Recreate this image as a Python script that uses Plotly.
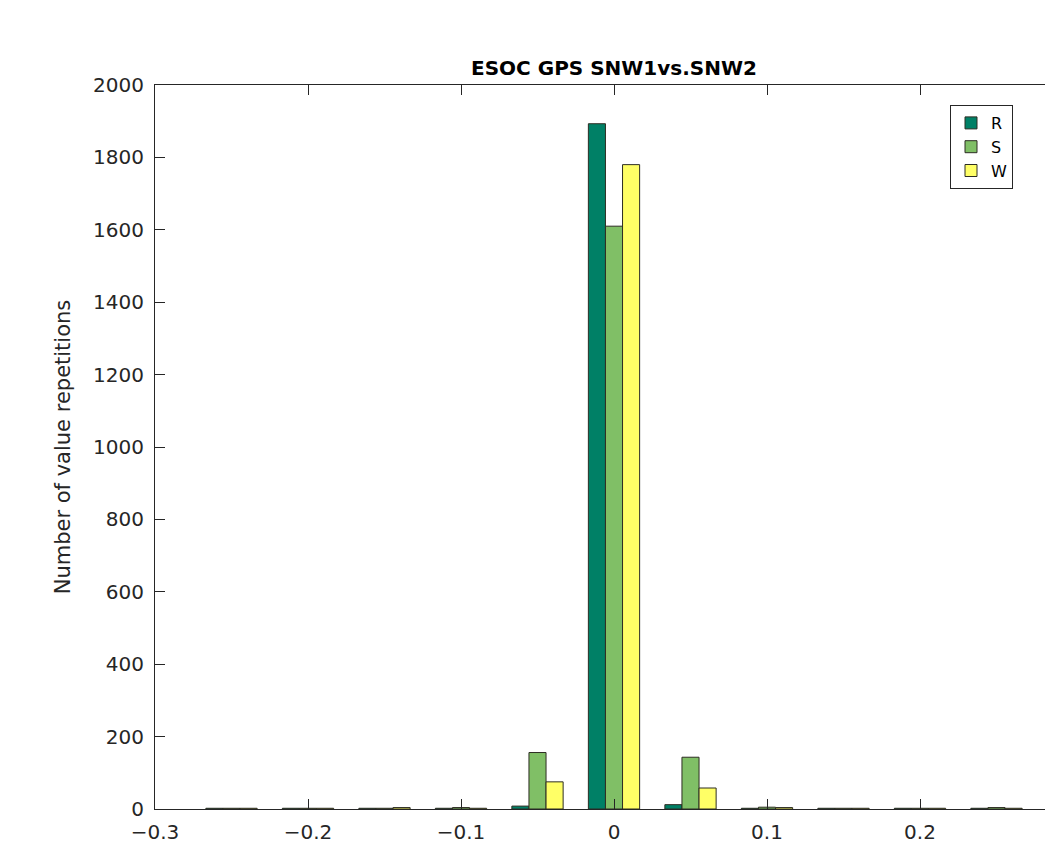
import plotly.graph_objects as go

# Bin centres
bins = [-0.25, -0.2, -0.15, -0.1, -0.05, 0.0, 0.05, 0.1, 0.15, 0.2, 0.25]
# Series values
R_vals = [2, 2, 2, 2, 8, 1893, 12, 2, 2, 2, 2]
S_vals = [2, 2, 2, 4, 156, 1610, 143, 5, 2, 2, 4]
W_vals = [2, 2, 4, 2, 75, 1780, 58, 4, 2, 2, 2]

series_names = ["R", "S", "W"]
series_colors = ["rgb(0,128,102)", "rgb(128,191,102)", "rgb(255,255,102)"]

title_text = "ESOC GPS SNW1vs.SNW2"
y_label = "Number of value repetitions"
x_ticks = [-0.3, -0.2, -0.1, 0, 0.1, 0.2, 0.3]
x_tick_labels = ["\u22120.3", "\u22120.2", "\u22120.1", "0", "0.1", "0.2", "0.3"]
y_ticks = list(range(0, 2001, 200))

W_FIG, H_FIG = 1045, 846
L, T, B = 155, 85, 37
axis_col = "rgb(38,38,38)"
font_family = "DejaVu Sans"

fig = go.Figure()
for name, vals, col in zip(series_names, [R_vals, S_vals, W_vals], series_colors):
    fig.add_trace(go.Bar(
        x=bins, y=vals, name=name,
        marker=dict(color=col, line=dict(color="rgb(45,45,35)", width=1)),
    ))

# px per 0.1 unit on x
px_per_unit = (614 - 155) / 0.3
x_right = -0.3 + (W_FIG - L) / px_per_unit

fig.update_layout(
    width=W_FIG, height=H_FIG,
    margin=dict(l=L, r=0, t=T, b=B, pad=0, autoexpand=False),
    paper_bgcolor="white", plot_bgcolor="white",
    barmode="group", bargap=0.33, bargroupgap=0,
    font=dict(family=font_family, size=20, color=axis_col),
    showlegend=True,
    legend=dict(
        x=(950 - L) / (W_FIG - L), y=1 - (105 - T) / (H_FIG - T - B),
        xanchor="left", yanchor="top",
        bgcolor="white", bordercolor=axis_col, borderwidth=1,
        font=dict(size=16, color="black"),
        itemwidth=30, tracegroupgap=0,
    ),
    xaxis=dict(
        range=[-0.3, x_right], tickvals=x_ticks, ticktext=x_tick_labels,
        ticks="inside", ticklen=10, tickwidth=1, tickcolor=axis_col,
        showline=True, linecolor=axis_col, linewidth=1, mirror="ticks",
        showgrid=False, zeroline=False, ticklabelstandoff=5,
        tickfont=dict(size=20, color=axis_col),
    ),
    yaxis=dict(
        range=[0, 2000], tickvals=y_ticks,
        ticks="inside", ticklen=10, tickwidth=1, tickcolor=axis_col,
        showline=True, linecolor=axis_col, linewidth=1, mirror=False,
        showgrid=False, zeroline=False, ticklabelstandoff=6,
        tickfont=dict(size=20, color=axis_col),
        title=dict(text=y_label, font=dict(size=21, color=axis_col), standoff=16),
    ),
    annotations=[dict(
        text="<b>" + title_text + "</b>", xref="paper", yref="paper",
        x=(613.5 - L) / (W_FIG - L), y=1, xanchor="center", yanchor="bottom",
        yshift=3, showarrow=False, font=dict(size=20, color="black", family=font_family),
    )],
)

fig.write_html("out.html")
